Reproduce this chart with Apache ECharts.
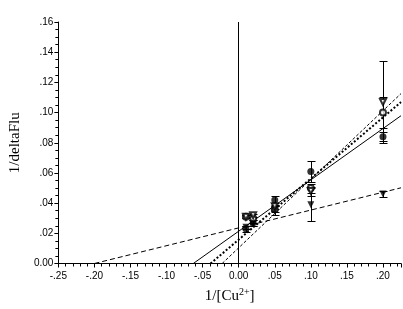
<!DOCTYPE html>
<html>
<head>
<meta charset="utf-8">
<script src="https://cdn.jsdelivr.net/npm/echarts@6/dist/echarts.min.js"></script>
<style>
  html, body { margin: 0; padding: 0; background: #fff; }
  #chart { width: 403px; height: 309px; }
</style>
</head>
<body>
<div id="chart"></div>
<script>
// 1/[Cu2+] values
const xVals = [0.01, 0.02, 0.05, 0.1, 0.2]

// 1/deltaFlu for each series, with error bars
const filledCircle = [0.023, 0.027, 0.042, 0.061, 0.084]
const filledCircleErr = [0.002, 0.002, 0.003, 0.007, 0.003]
const openCircle = [0.031, 0.030, 0.036, 0.050, 0.100]
const openCircleErr = [0.001, 0.001, 0.002, 0.003, 0.010]
const filledTri = [0.024, 0.026, 0.035, 0.039, 0.046]
const filledTriErr = [0.001, 0.001, 0.003, 0.011, 0.002]
const openTri = [0.031, 0.032, 0.038, 0.048, 0.107]
const openTriErr = [0.001, 0.001, 0.002, 0.003, 0.027]

// linear fits: [filledCircle, openCircle, filledTri, openTri]
const fitSlope = [0.340, 0.405, 0.118, 0.454]
const fitIntercept = [0.0214, 0.0158, 0.0236, 0.0104]

// tick labels
const xTicks = [-0.25, -0.2, -0.15, -0.1, -0.05, 0, 0.05, 0.1, 0.15, 0.2]
const xTickLabels = ['-.25', '-.20', '-.15', '-.10', '-.05', '0.00', '.05', '.10', '.15', '.20']
const yTicks = [0, 0.02, 0.04, 0.06, 0.08, 0.1, 0.12, 0.14, 0.16]
const yTickLabels = ['0.00', '.02', '.04', '.06', '.08', '.10', '.12', '.14', '.16']

const X_MIN = -0.25
const X_MAX = 0.225

const lookup = (ticks, labels) => (v) => {
  const i = ticks.findIndex(t => Math.abs(t - v) < 1e-6)
  return i >= 0 ? labels[i] : ''
}

const fitLine = (k) => {
  const x0 = -fitIntercept[k] / fitSlope[k]
  return [[x0, 0], [X_MAX, fitIntercept[k] + fitSlope[k] * X_MAX]]
}

const errData = (vals, errs) => xVals.map((x, i) => [x, vals[i], errs[i]])

const crisp = (v) => Math.round(v) + 0.5

const errorBars = (vals, errs) => ({
  type: 'custom',
  silent: true,
  z: 3,
  data: errData(vals, errs),
  renderItem: (params, api) => {
    const x = api.value(0)
    const y = api.value(1)
    const e = api.value(2)
    const top = api.coord([x, y + e])
    const bot = api.coord([x, y - e])
    const cx = crisp(top[0])
    const ty = crisp(top[1])
    const by = crisp(bot[1])
    const w = 4
    const style = { stroke: '#000', lineWidth: 1 }
    return {
      type: 'group',
      children: [
        { type: 'line', shape: { x1: cx, y1: ty, x2: cx, y2: by }, style },
        { type: 'line', shape: { x1: cx - w, y1: ty, x2: cx + w, y2: ty }, style },
        { type: 'line', shape: { x1: cx - w, y1: by, x2: cx + w, y2: by }, style }
      ]
    }
  }
})

const points = (vals, symbol, rotate) => ({
  type: 'scatter',
  z: 4,
  symbol,
  symbolRotate: rotate,
  symbolSize: symbol.startsWith('empty') ? 6 : 7,
  itemStyle: { color: '#000', borderWidth: symbol.startsWith('empty') ? 1.2 : 0 },
  data: xVals.map((x, i) => [x, vals[i]])
})

const fit = (k, type, width) => ({
  type: 'line',
  z: 2,
  symbol: 'none',
  silent: true,
  lineStyle: { color: '#000', width, type },
  data: fitLine(k)
})

const myChart = echarts.init(document.getElementById('chart'))

const axisText = { color: '#000', fontFamily: 'Liberation Sans', fontSize: 10 }

const option = {
  animation: false,
  grid: { left: 44, right: 2, top: 22, bottom: 41 },
  xAxis: {
    type: 'value',
    min: X_MIN,
    max: X_MAX,
    interval: 0.05,
    name: '1/[Cu{sup|2+}]',
    nameLocation: 'middle',
    nameGap: 24,
    nameTextStyle: {
      color: '#000',
      fontFamily: 'Liberation Serif',
      fontSize: 15,
      rich: { sup: { fontFamily: 'Liberation Serif', fontSize: 10, verticalAlign: 'top', padding: [0, 0, 8, 0] } }
    },
    axisLine: { onZero: false, lineStyle: { color: '#000', width: 1 } },
    axisTick: { length: 4, lineStyle: { color: '#000' } },
    minorTick: { show: true, splitNumber: 5, length: 3, lineStyle: { color: '#000' } },
    splitLine: { show: false },
    axisLabel: { ...axisText, margin: 8, showMaxLabel: false, formatter: lookup(xTicks, xTickLabels) }
  },
  yAxis: {
    type: 'value',
    min: 0,
    max: 0.16,
    interval: 0.02,
    name: '1/deltaFlu',
    nameLocation: 'middle',
    nameGap: 30,
    nameTextStyle: { color: '#000', fontFamily: 'Liberation Serif', fontSize: 15 },
    axisLine: { show: true, onZero: false, lineStyle: { color: '#000', width: 1 } },
    axisTick: { show: true, length: 4, lineStyle: { color: '#000' } },
    minorTick: { show: true, splitNumber: 4, length: 3, lineStyle: { color: '#000' } },
    splitLine: { show: false },
    axisLabel: { ...axisText, margin: 5, formatter: lookup(yTicks, yTickLabels) }
  },
  series: [
    {
      ...fit(0, 'solid', 1),
      markLine: {
        silent: true,
        symbol: 'none',
        label: { show: false },
        lineStyle: { color: '#000', width: 1, type: 'solid' },
        data: [{ xAxis: 0 }]
      }
    },
    fit(1, [2, 2], 2),
    fit(2, [5, 3], 1),
    fit(3, [3, 2], 1),
    errorBars(filledCircle, filledCircleErr),
    errorBars(openCircle, openCircleErr),
    errorBars(filledTri, filledTriErr),
    errorBars(openTri, openTriErr),
    points(filledCircle, 'circle', 0),
    points(openCircle, 'emptyCircle', 0),
    points(filledTri, 'triangle', 180),
    points(openTri, 'emptyTriangle', 180)
  ]
}

myChart.setOption(option)
</script>
</body>
</html>
